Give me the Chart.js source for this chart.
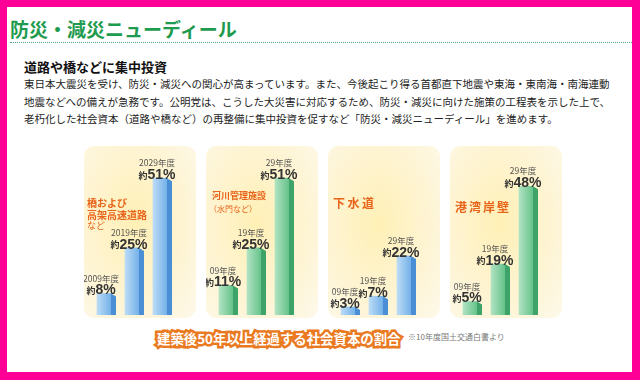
<!DOCTYPE html>
<html lang="ja">
<head>
<meta charset="utf-8">
<script src="https://cdn.jsdelivr.net/npm/chart.js@4.4.1/dist/chart.umd.min.js"></script>
<style>
    body { margin: 0; }
    #page {
        position: relative; width: 640px; height: 380px; overflow: hidden;
        background: #ff0096;
        font-family: "Noto Sans CJK JP", "Noto Sans", sans-serif;
    }
    #sheet { position: absolute; left: 7px; top: 7px; width: 625px; height: 365px; background: #fff; }
    .abs { position: absolute; white-space: nowrap; }
    #title { left: 10px; top: 17px; font-size: 19px; line-height: 24px; font-weight: 700; color: #1f9b4f; }
    #rule { left: 10px; top: 42px; width: 622px; height: 0; border-top: 1px dotted #4aa98a; }
    #lead { left: 24px; top: 59px; font-size: 13px; line-height: 16px; font-weight: 700; color: #111; }
    .para { left: 24px; font-size: 10.5px; line-height: 17px; color: #222; }
    .panel {
        position: absolute; top: 146px; width: 112px; height: 172px; border-radius: 10px;
        background: radial-gradient(ellipse at 45% 45%, #fff0b6 0%, #fef4d2 55%, #fdf9ea 100%);
    }
    .panel canvas { position: absolute; left: 0; top: 0; }
    .tag { position: absolute; white-space: nowrap; color: #e8641a; font-weight: 700; line-height: 12px; }
    .tag.sub { font-weight: 400; }
    #capBack, #capFront { left: 157px; top: 328px; font-size: 13.4px; line-height: 20px; font-weight: 700; }
    #capBack { color: #ea7a22; -webkit-text-stroke: 5px #ea7a22; }
    #capFront { color: #fff; }
    #note { left: 408px; top: 331px; font-size: 8px; line-height: 12px; color: #777; }
</style>
</head>
<body>
<div id="page">
    <div id="sheet"></div>
    <div class="abs" id="title">防災・減災ニューディール</div>
    <div class="abs" id="rule"></div>
    <div class="abs" id="lead">道路や橋などに集中投資</div>
    <div class="abs para" style="top:75px">東日本大震災を受け、防災・減災への関心が高まっています。また、今後起こり得る首都直下地震や東海・東南海・南海連動</div>
    <div class="abs para" style="top:92.5px">地震などへの備えが急務です。公明党は、こうした大災害に対応するため、防災・減災に向けた施策の工程表を示した上で、</div>
    <div class="abs para" style="top:110px">老朽化した社会資本（道路や橋など）の再整備に集中投資を促すなど「防災・減災ニューディール」を進めます。</div>

    <div class="panel" style="left:84px"><canvas id="c1" width="112" height="172"></canvas></div>
    <div class="panel" style="left:206px"><canvas id="c2" width="112" height="172"></canvas></div>
    <div class="panel" style="left:328px"><canvas id="c3" width="112" height="172"></canvas></div>
    <div class="panel" style="left:450px"><canvas id="c4" width="112" height="172"></canvas></div>

    <div class="tag" style="left:87px;top:197px;font-size:10px">橋および</div>
    <div class="tag" style="left:87px;top:208.5px;font-size:10px">高架高速道路</div>
    <div class="tag sub" style="left:87px;top:220px;font-size:9px">など</div>
    <div class="tag" style="left:212px;top:190px;font-size:9px">河川管理施設</div>
    <div class="tag sub" style="left:209px;top:203px;font-size:8px">（水門など）</div>
    <div class="tag" style="left:333px;top:197px;font-size:12px;letter-spacing:2.5px">下水道</div>
    <div class="tag" style="left:455px;top:201px;font-size:12px;letter-spacing:2px">港湾岸壁</div>

    <div class="abs" id="capBack">建築後50年以上経過する社会資本の割合</div>
    <div class="abs" id="capFront">建築後50年以上経過する社会資本の割合</div>
    <div class="abs" id="note">※10年度国土交通白書より</div>
</div>

<script>
// 年度ラベル
const fyLong = ['2009年度', '2019年度', '2029年度'];
const fyShort = ['09年度', '19年度', '29年度'];

// 建築後50年以上経過する割合 (%)
const bridgeShare = [8, 25, 51];
const riverShare = [11, 25, 51];
const sewerShare = [3, 7, 22];
const portShare = [5, 19, 48];

const yMax = 63;

const BLUE = { light: '#bcdcf6', mid: '#74b1e9', side: '#4a8fd5' };
const GREEN = { light: '#b0e3c2', mid: '#66c28b', side: '#3ea369' };

// 立体の側面と数値ラベル
const column3d = {
    id: 'column3d',
    afterDatasetsDraw(chart, args, opts) {
        const ctx = chart.ctx;
        const values = chart.data.datasets[0].data;
        chart.getDatasetMeta(0).data.forEach((bar, i) => {
            const r = bar.x + bar.width / 2;
            const top = bar.y;
            const base = bar.base;

            ctx.save();
            ctx.fillStyle = opts.color.side;
            ctx.beginPath();
            ctx.moveTo(r, top);
            ctx.lineTo(r + 5, top + 3);
            ctx.lineTo(r + 5, base);
            ctx.lineTo(r, base);
            ctx.closePath();
            ctx.fill();

            const cx = bar.x - 3;
            ctx.textBaseline = 'middle';
            ctx.textAlign = 'center';
            ctx.fillStyle = '#555';
            ctx.font = '8.5px "Noto Sans CJK JP"';
            ctx.fillText(opts.years[i], cx, top - 15);

            const pre = '約';
            const num = values[i] + '%';
            ctx.font = 'bold 9px "Noto Sans CJK JP"';
            const w1 = ctx.measureText(pre).width;
            ctx.font = 'bold 14px "Liberation Sans"';
            const w2 = ctx.measureText(num).width;
            const x0 = cx - (w1 + w2) / 2;
            ctx.textAlign = 'left';
            ctx.fillStyle = '#333';
            ctx.font = 'bold 9px "Noto Sans CJK JP"';
            ctx.fillText(pre, x0, top - 3);
            ctx.font = 'bold 14px "Liberation Sans"';
            ctx.fillText(num, x0 + w1, top - 3);
            ctx.restore();
        });
    }
};

function makePanel(id, years, values, color) {
    new Chart(document.getElementById(id), {
        type: 'bar',
        data: {
            labels: years,
            datasets: [{
                data: values,
                barThickness: 14,
                borderWidth: 0,
                backgroundColor: function(c) {
                    const chart = c.chart;
                    if (!chart.chartArea) return color.mid;
                    const x = chart.scales.x.getPixelForValue(c.dataIndex);
                    const g = chart.ctx.createLinearGradient(x - 7, 0, x + 7, 0);
                    g.addColorStop(0, color.light);
                    g.addColorStop(1, color.mid);
                    return g;
                }
            }]
        },
        options: {
            responsive: false,
            animation: false,
            layout: { padding: { left: 6, right: 22, top: 0, bottom: 3 } },
            scales: {
                x: { display: false },
                y: { display: false, min: 0, max: yMax }
            },
            plugins: {
                legend: { display: false },
                tooltip: { enabled: false },
                column3d: { color: color, years: years }
            }
        },
        plugins: [column3d]
    });
}

makePanel('c1', fyLong, bridgeShare, BLUE);
makePanel('c2', fyShort, riverShare, GREEN);
makePanel('c3', fyShort, sewerShare, BLUE);
makePanel('c4', fyShort, portShare, GREEN);
</script>
</body>
</html>
